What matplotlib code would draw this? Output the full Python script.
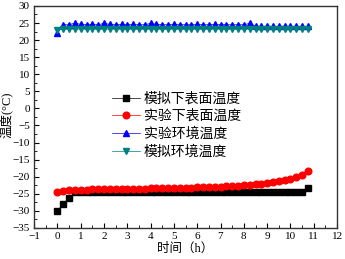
import numpy as np
import matplotlib
matplotlib.use("Agg")
import matplotlib.pyplot as plt
from matplotlib.ticker import MultipleLocator

plt.rcParams['font.family'] = ['Liberation Serif', 'Noto Sans CJK SC']
plt.rcParams['mathtext.fontset'] = 'stix'

t = [i * 0.25 for i in range(44)]

sim_surface = [-30.0, -28.0, -26.3] + [-24.6] * 40 + [-23.4]
exp_surface = [-24.5, -24.2, -24.0, -23.9, -23.8, -23.75, -23.7, -23.7, -23.65, -23.6,
               -23.6, -23.55, -23.55, -23.5, -23.5, -23.5, -23.45, -23.45, -23.4, -23.4,
               -23.35, -23.3, -23.25, -23.2, -23.15, -23.1, -23.0, -22.95, -22.9, -22.8,
               -22.7, -22.6, -22.5, -22.4, -22.2, -22.0, -21.8, -21.6, -21.3, -21.0,
               -20.6, -20.1, -19.5, -18.4]
exp_env = [22.0, 24.5, 24.5, 25.0, 24.6, 24.5, 24.6, 24.5, 24.9, 24.6,
           24.5, 24.6, 24.5, 24.6, 24.5, 24.5, 24.9, 24.6, 24.5, 24.5,
           24.6, 24.5, 24.5, 24.5, 24.6, 24.5, 24.5, 24.6, 24.5, 24.5,
           24.5, 24.5, 24.5, 24.9, 24.1, 24.0, 24.1, 24.0, 24.0, 24.1,
           24.0, 24.0, 24.0, 24.0]
sim_env = [22.9] + [23.2] * 43

series = [
    ('模拟下表面温度', sim_surface, 'black', 's'),
    ('实验下表面温度', exp_surface, 'red', 'o'),
    ('实验环境温度', exp_env, 'blue', '^'),
    ('模拟环境温度', sim_env, '#008080', 'v'),
]

fig = plt.figure(figsize=(3.45, 2.59), dpi=100)
ax = fig.add_axes([0.099, 0.12, 0.878, 0.857])

for name, vals, c, m in series:
    ax.plot(t, vals, color=c, marker=m, markersize=4.8, linewidth=0.5, label=name)

ax.set_xlim(-1, 12)
ax.set_ylim(-35, 30)
ax.xaxis.set_major_locator(MultipleLocator(1))
ax.xaxis.set_minor_locator(MultipleLocator(0.5))
ax.yaxis.set_major_locator(MultipleLocator(5))
ax.yaxis.set_minor_locator(MultipleLocator(2.5))
ax.tick_params(which='both', direction='in', labelsize=8, pad=3)
ax.tick_params(which='major', length=3.5, width=0.8)
ax.tick_params(which='minor', length=2, width=0.6)
for s in ax.spines.values():
    s.set_linewidth(1.0)
    s.set_color('#333333')

ax.set_xlabel('时间（h）', fontsize=9, labelpad=1)
ax.set_ylabel('温度(°C)', fontsize=9)
ax.yaxis.set_label_coords(-0.068, 0.51)

leg = ax.legend(loc='upper left', bbox_to_anchor=(0.225, 0.655), frameon=False,
                fontsize=10, handlelength=2.0, labelspacing=0.3, borderpad=0.2,
                handletextpad=0.3)

fig.savefig('out.png', dpi=100)
